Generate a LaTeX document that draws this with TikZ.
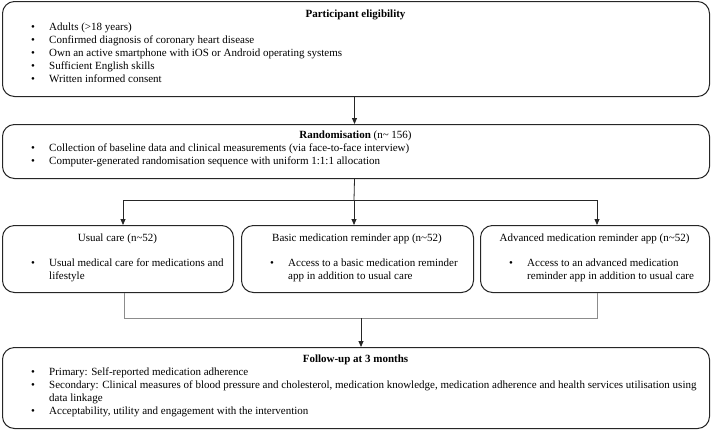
\documentclass[tikz,border=0pt]{standalone}
\usepackage{fontspec}
\setmainfont{Liberation Serif}
\usetikzlibrary{arrows.meta}
\begin{document}
\begin{tikzpicture}[x=1pt,y=-1pt,
  box/.style={draw=black!85, line width=1pt, rounded corners=12pt, inner sep=0pt, anchor=north west},
  txt/.style={font=\fontsize{11}{13}\selectfont, inner sep=0pt, anchor=mid west},
  ttl/.style={font=\fontsize{11}{13}\selectfont, inner sep=0pt, anchor=mid},
  bul/.style={font=\fontsize{11}{13}\selectfont, inner sep=0pt, anchor=mid},
  conn/.style={draw=black!85, line width=0.8pt},
  gconn/.style={draw=black!45, line width=0.9pt},
  arr/.style={conn, -{Triangle[length=6pt,width=5pt]}},
]
\useasboundingbox (0,0) rectangle (712,429);

% Participant eligibility
\node[box, minimum width=707pt, minimum height=95pt] (elig) at (2,1) {};
\node[ttl] (eligT) at (355.5,15) {\textbf{Participant eligibility}};
\foreach \yy/\lbl [count=\i] in {28/{Adults (>18 years)},41/{Confirmed diagnosis of coronary heart disease},54/{Own an active smartphone with iOS or Android operating systems},67/{Sufficient English skills},80/{Written informed consent}}{
  \node[bul] (eb\i) at (33,\yy) {\textbullet};
  \node[txt] (et\i) at (49,\yy) {\lbl};
}

% Randomisation
\node[box, minimum width=707pt, minimum height=54pt] (rand) at (2,124) {};
\node[ttl] (randT) at (355.5,136) {\textbf{Randomisation} (n\textasciitilde\ 156)};
\foreach \yy/\lbl [count=\i] in {149/{Collection of baseline data and clinical measurements (via face-to-face interview)},162/{Computer-generated randomisation sequence with uniform 1:1:1 allocation}}{
  \node[bul] (rb\i) at (33,\yy) {\textbullet};
  \node[txt] (rt\i) at (49,\yy) {\lbl};
}

% Three arms
\node[box, minimum width=231pt, minimum height=67pt] (usual) at (2,225) {};
\node[ttl] (usualT) at (117.5,239) {Usual care (n\textasciitilde 52)};
\node[bul] (ub) at (33,264) {\textbullet};
\node[txt] (ut1) at (49,264) {Usual medical care for medications and};
\node[txt] (ut2) at (49,277) {lifestyle};

\node[box, minimum width=232pt, minimum height=67pt] (basic) at (241,225) {};
\node[ttl] (basicT) at (357,239) {Basic medication reminder app (n\textasciitilde 52)};
\node[bul] (bb) at (272,264) {\textbullet};
\node[txt] (bt1) at (288,264) {Access to a basic medication reminder};
\node[txt] (bt2) at (288,277) {app in addition to usual care};

\node[box, minimum width=229pt, minimum height=67pt] (adv) at (480,225) {};
\node[ttl] (advT) at (594.5,239) {Advanced medication reminder app (n\textasciitilde 52)};
\node[bul] (ab) at (511,264) {\textbullet};
\node[txt] (at1) at (527,264) {Access to an advanced medication};
\node[txt] (at2) at (527,277) {reminder app in addition to usual care};

% Follow-up
\node[box, minimum width=707pt, minimum height=81pt] (follow) at (2,347) {};
\node[ttl] (followT) at (355.5,360) {\textbf{Follow-up at 3 months}};
\node[bul] (fb1) at (33,373) {\textbullet};
\node[txt] (ft1) at (49,373) {Primary: Self-reported medication adherence};
\node[bul] (fb2) at (33,386) {\textbullet};
\node[txt] (ft2) at (49,386) {Secondary: Clinical measures of blood pressure and cholesterol, medication knowledge, medication adherence and health services utilisation using};
\node[txt] (ft3) at (49,399) {data linkage};
\node[bul] (fb3) at (33,412) {\textbullet};
\node[txt] (ft4) at (49,412) {Acceptability, utility and engagement with the intervention};

% Connectors
\draw[arr] ([xshift=-1.5pt]elig.south) -- ([xshift=-1.5pt]rand.north);
\coordinate (split) at (354,200);
\coordinate (jl) at (123,200);
\coordinate (jr) at (597,200);
\draw[conn] ([xshift=-1.5pt]rand.south) -- (split);
\draw[conn] (jl) -- (jr);
\draw[arr] (split) -- (split |- basic.north);
\draw[arr] (jl) -- (jl |- usual.north);
\draw[arr] (jr) -- (jr |- adv.north);

\coordinate (bl) at (124,318);
\coordinate (br) at (597,318);
\coordinate (bm) at (361,318);
\draw[gconn] (bl |- usual.south) -- (bl) -- (br) -- (br |- adv.south);
\draw[arr] (bm) -- (bm |- follow.north);
\end{tikzpicture}
\end{document}
